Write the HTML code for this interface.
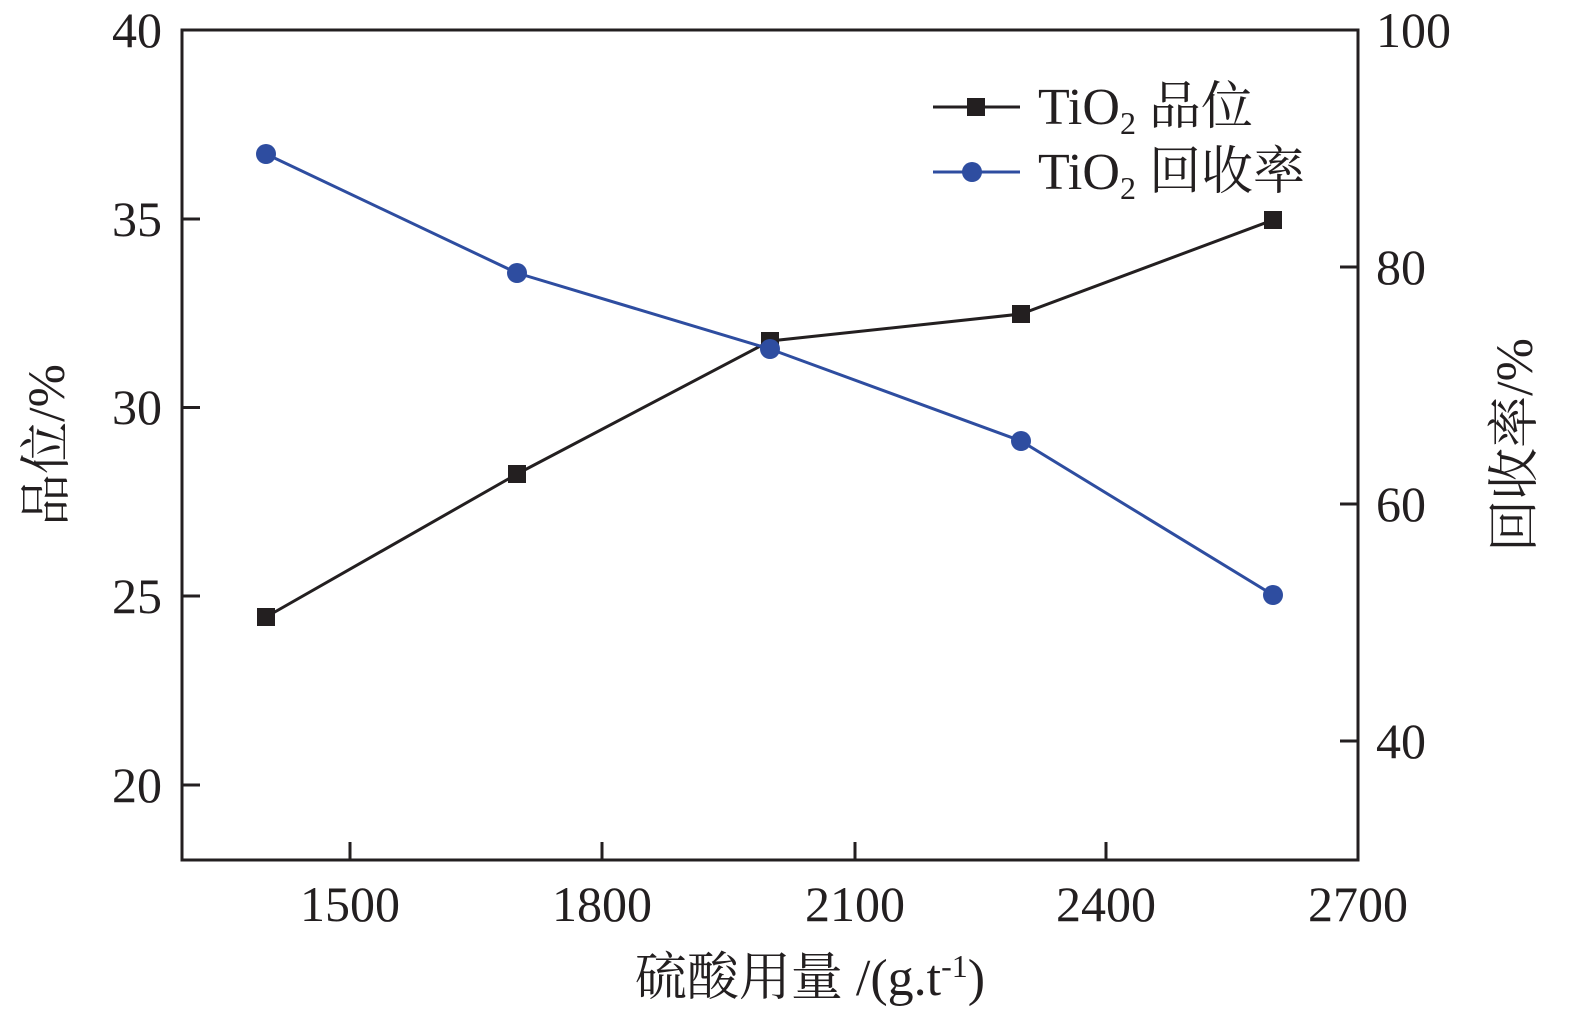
<!DOCTYPE html>
<html><head><meta charset="utf-8"><style>html,body{margin:0;padding:0;background:#fff}</style></head>
<body>
<svg width="1575" height="1015" viewBox="0 0 1575 1015" xmlns="http://www.w3.org/2000/svg" font-family="'Liberation Serif','Noto Serif CJK SC',serif" fill="#231f20">
<rect x="182" y="30" width="1176" height="830" fill="none" stroke="#231f20" stroke-width="3"/>
<g stroke="#231f20" stroke-width="3">
<line x1="182" y1="219" x2="200" y2="219"/><line x1="182" y1="407.5" x2="200" y2="407.5"/><line x1="182" y1="596" x2="200" y2="596"/><line x1="182" y1="785" x2="200" y2="785"/>
<line x1="1358" y1="267" x2="1340" y2="267"/><line x1="1358" y1="504" x2="1340" y2="504"/><line x1="1358" y1="741" x2="1340" y2="741"/>
<line x1="350" y1="860" x2="350" y2="842"/><line x1="602" y1="860" x2="602" y2="842"/><line x1="855" y1="860" x2="855" y2="842"/><line x1="1106" y1="860" x2="1106" y2="842"/>
</g>
<g font-size="50" text-anchor="end">
<text x="162" y="47">40</text><text x="162" y="236">35</text><text x="162" y="424">30</text><text x="162" y="613">25</text><text x="162" y="802">20</text>
</g>
<g font-size="50" text-anchor="start">
<text x="1376" y="47">100</text><text x="1376" y="284">80</text><text x="1376" y="521">60</text><text x="1376" y="758">40</text>
</g>
<g font-size="50" text-anchor="middle">
<text x="350" y="921">1500</text><text x="602" y="921">1800</text><text x="855" y="921">2100</text><text x="1106" y="921">2400</text><text x="1358" y="921">2700</text>
<text x="810" y="995" font-size="52">硫酸用量 /(g.t<tspan font-size="32" dy="-18">-1</tspan><tspan dy="18">)</tspan></text>
<text transform="translate(64,445) rotate(-90)" font-size="52">品位/%</text>
<text transform="translate(1532,445) rotate(-90)" font-size="52">回收率/%</text>
</g>
<polyline points="266,617 517,474 770,341 1021,314 1273,220" fill="none" stroke="#231f20" stroke-width="3"/>
<g fill="#231f20">
<rect x="257" y="608" width="18" height="18"/><rect x="508" y="465" width="18" height="18"/><rect x="761" y="332" width="18" height="18"/><rect x="1012" y="305" width="18" height="18"/><rect x="1264" y="211" width="18" height="18"/>
</g>
<polyline points="266,154 517,273 770,349 1021,441 1273,595" fill="none" stroke="#2e4da0" stroke-width="3"/>
<g fill="#2e4da0">
<circle cx="266" cy="154" r="10"/><circle cx="517" cy="273" r="10"/><circle cx="770" cy="349" r="10"/><circle cx="1021" cy="441" r="10"/><circle cx="1273" cy="595" r="10"/>
</g>
<line x1="933" y1="107" x2="1020" y2="107" stroke="#231f20" stroke-width="3"/>
<rect x="967" y="98" width="18" height="18"/>
<line x1="933" y1="172" x2="1020" y2="172" stroke="#2e4da0" stroke-width="3"/>
<circle cx="972" cy="172" r="10" fill="#2e4da0"/>
<g font-size="52">
<text x="1038" y="124">TiO<tspan font-size="32" dy="10">2</tspan><tspan dy="-10"> 品位</tspan></text>
<text x="1038" y="189">TiO<tspan font-size="32" dy="10">2</tspan><tspan dy="-10"> 回收率</tspan></text>
</g>
</svg>
</body></html>
